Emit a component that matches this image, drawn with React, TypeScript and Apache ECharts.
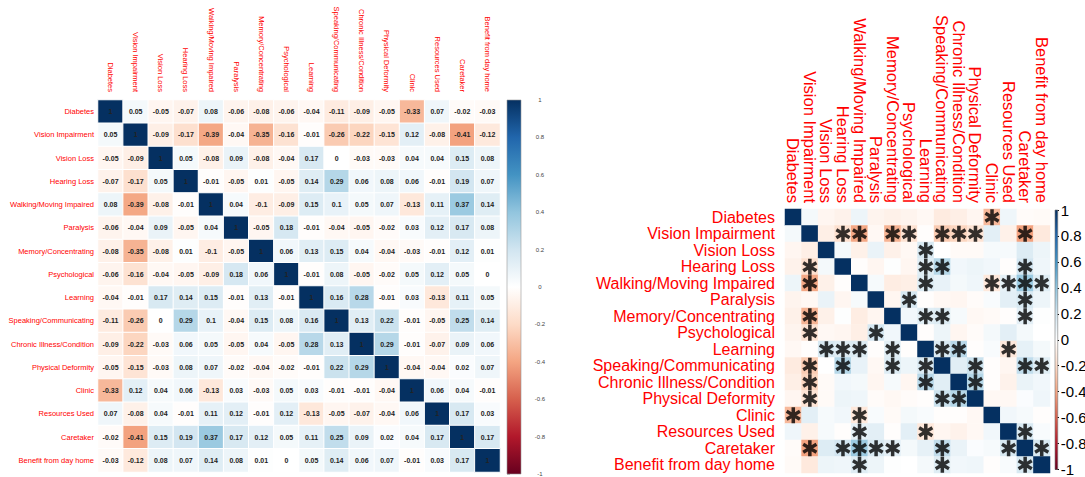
import React, { useEffect, useRef } from "react";
import * as echarts from "echarts";

const categories = [
  "Diabetes",
  "Vision Impairment",
  "Vision Loss",
  "Hearing Loss",
  "Walking/Moving Impaired",
  "Paralysis",
  "Memory/Concentrating",
  "Psychological",
  "Learning",
  "Speaking/Communicating",
  "Chronic Illness/Condition",
  "Physical Deformity",
  "Clinic",
  "Resources Used",
  "Caretaker",
  "Benefit from day home",
];

const rowDiabetes = [1, 0.05, -0.05, -0.07, 0.08, -0.06, -0.08, -0.06, -0.04, -0.11, -0.09, -0.05, -0.33, 0.07, -0.02, -0.03];
const rowVisionImpairment = [0.05, 1, -0.09, -0.17, -0.39, -0.04, -0.35, -0.16, -0.01, -0.26, -0.22, -0.15, 0.12, -0.08, -0.41, -0.12];
const rowVisionLoss = [-0.05, -0.09, 1, 0.05, -0.08, 0.09, -0.08, -0.04, 0.17, 0, -0.03, -0.03, 0.04, 0.04, 0.15, 0.08];
const rowHearingLoss = [-0.07, -0.17, 0.05, 1, -0.01, -0.05, 0.01, -0.05, 0.14, 0.29, 0.06, 0.08, 0.06, -0.01, 0.19, 0.07];
const rowWalking = [0.08, -0.39, -0.08, -0.01, 1, 0.04, -0.1, -0.09, 0.15, 0.1, 0.05, 0.07, -0.13, 0.11, 0.37, 0.14];
const rowParalysis = [-0.06, -0.04, 0.09, -0.05, 0.04, 1, -0.05, 0.18, -0.01, -0.04, -0.05, -0.02, 0.03, 0.12, 0.17, 0.08];
const rowMemory = [-0.08, -0.35, -0.08, 0.01, -0.1, -0.05, 1, 0.06, 0.13, 0.15, 0.04, -0.04, -0.03, -0.01, 0.12, 0.01];
const rowPsychological = [-0.06, -0.16, -0.04, -0.05, -0.09, 0.18, 0.06, 1, -0.01, 0.08, -0.05, -0.02, 0.05, 0.12, 0.05, 0];
const rowLearning = [-0.04, -0.01, 0.17, 0.14, 0.15, -0.01, 0.13, -0.01, 1, 0.16, 0.28, -0.01, 0.03, -0.13, 0.11, 0.05];
const rowSpeaking = [-0.11, -0.26, 0, 0.29, 0.1, -0.04, 0.15, 0.08, 0.16, 1, 0.13, 0.22, -0.01, -0.05, 0.25, 0.14];
const rowChronic = [-0.09, -0.22, -0.03, 0.06, 0.05, -0.05, 0.04, -0.05, 0.28, 0.13, 1, 0.29, -0.01, -0.07, 0.09, 0.06];
const rowPhysical = [-0.05, -0.15, -0.03, 0.08, 0.07, -0.02, -0.04, -0.02, -0.01, 0.22, 0.29, 1, -0.04, -0.04, 0.02, 0.07];
const rowClinic = [-0.33, 0.12, 0.04, 0.06, -0.13, 0.03, -0.03, 0.05, 0.03, -0.01, -0.01, -0.04, 1, 0.06, 0.04, -0.01];
const rowResources = [0.07, -0.08, 0.04, -0.01, 0.11, 0.12, -0.01, 0.12, -0.13, -0.05, -0.07, -0.04, 0.06, 1, 0.17, 0.03];
const rowCaretaker = [-0.02, -0.41, 0.15, 0.19, 0.37, 0.17, 0.12, 0.05, 0.11, 0.25, 0.09, 0.02, 0.04, 0.17, 1, 0.17];
const rowBenefit = [-0.03, -0.12, 0.08, 0.07, 0.14, 0.08, 0.01, 0, 0.05, 0.14, 0.06, 0.07, -0.01, 0.03, 0.17, 1];

const corrRows = [
  rowDiabetes, rowVisionImpairment, rowVisionLoss, rowHearingLoss, rowWalking, rowParalysis,
  rowMemory, rowPsychological, rowLearning, rowSpeaking, rowChronic, rowPhysical,
  rowClinic, rowResources, rowCaretaker, rowBenefit,
];

// significant pairs (row index, column index), marked with an asterisk
const sigPairs: [number, number][] = [
  [0, 12],
  [1, 3], [1, 4], [1, 6], [1, 7], [1, 9], [1, 10], [1, 11], [1, 14],
  [2, 8],
  [3, 8], [3, 9], [3, 14],
  [4, 8], [4, 12], [4, 13], [4, 14], [4, 15],
  [5, 7], [5, 14],
  [6, 8], [6, 9], [6, 14],
  [8, 9], [8, 10], [8, 13],
  [9, 11], [9, 14], [9, 15],
  [10, 11],
  [13, 14],
  [14, 15],
];

const palette = ["#67001F", "#B2182B", "#D6604D", "#F4A582", "#FDDBC7", "#FFFFFF", "#D1E5F0", "#92C5DE", "#4393C3", "#2166AC", "#053061"];

const STAR =
  "path://M-1.15,5L-1.15,-5L1.15,-5L1.15,5Z M3.755,3.496L-4.905,-1.504L-3.755,-3.496L4.905,1.504Z M4.905,-1.504L-3.755,3.496L-4.905,1.504L3.755,-3.496Z";

export default function App() {
  const ref = useRef<HTMLDivElement>(null);
  useEffect(() => {
    const chart = echarts.init(ref.current!, null, { renderer: "svg" });
    const n = categories.length;
    const heatData: number[][] = [];
    for (let i = 0; i < n; i++) for (let j = 0; j < n; j++) heatData.push([j, i, corrRows[i][j]]);
    const sigSet = new Set<string>();
    sigPairs.forEach(([a, b]) => {
      sigSet.add(a + "," + b);
      sigSet.add(b + "," + a);
    });
    const starData: number[][] = [];
    for (let i = 0; i < n; i++) for (let j = 0; j < n; j++) if (sigSet.has(i + "," + j)) starData.push([j, i]);

    const stops = palette
      .map((c, i) => ({ offset: 1 - i / (palette.length - 1), color: c }))
      .reverse();

    const barRender = (stroke: string) => (params: any, api: any) => {
      const p0 = api.coord([0, 1]);
      const p1 = api.coord([1, -1]);
      return {
        type: "rect",
        shape: { x: p0[0], y: p0[1], width: p1[0] - p0[0], height: p1[1] - p0[1] },
        style: { fill: new echarts.graphic.LinearGradient(0, 0, 0, 1, stops), stroke, lineWidth: 0.6 },
      };
    };

    const font = "Liberation Sans, Arial, sans-serif";
    const catAxisX = (fontSize: number, margin: number) => ({
      type: "category",
      data: categories,
      position: "top",
      axisLine: { show: false },
      axisTick: { show: false },
      splitLine: { show: false },
      axisLabel: { interval: 0, rotate: 90, color: "#f00", fontSize, fontFamily: font, margin },
    });
    const catAxisY = (fontSize: number, margin: number) => ({
      type: "category",
      data: categories,
      inverse: true,
      axisLine: { show: false },
      axisTick: { show: false },
      splitLine: { show: false },
      axisLabel: { interval: 0, color: "#f00", fontSize, fontFamily: font, margin },
    });
    const fmt = (v: number) => String(Math.round(v * 10) / 10);

    chart.setOption({
      animation: false,
      grid: [
        { left: 98, top: 100, width: 402, height: 372 },
        { left: 785, top: 209, width: 265, height: 264 },
        { left: 507, top: 100, width: 14, height: 376 },
        { left: 1055, top: 210, width: 11, height: 263 },
      ],
      xAxis: [
        { ...catAxisX(7.5, 8), gridIndex: 0 },
        { ...catAxisX(16.5, 6), gridIndex: 1 },
        { type: "value", gridIndex: 2, min: 0, max: 1, show: false },
        { type: "value", gridIndex: 3, min: 0, max: 1, show: false },
      ],
      yAxis: [
        { ...catAxisY(7.5, 4), gridIndex: 0 },
        { ...catAxisY(16, 10), gridIndex: 1 },
        {
          type: "value", gridIndex: 2, min: -1, max: 1, interval: 0.2, position: "right",
          axisLine: { show: false }, splitLine: { show: false },
          axisTick: { show: true, length: 3, lineStyle: { color: "#999", width: 0.6 } },
          axisLabel: { fontSize: 6, color: "#444", fontFamily: font, margin: 19, align: "center", formatter: fmt },
        },
        {
          type: "value", gridIndex: 3, min: -1, max: 1, interval: 0.2, position: "right",
          axisLine: { show: false }, splitLine: { show: false },
          axisTick: { show: true, length: 4, lineStyle: { color: "#000", width: 1 } },
          axisLabel: { fontSize: 15, color: "#000", fontFamily: font, margin: 3, formatter: fmt },
        },
      ],
      visualMap: {
        show: false,
        type: "continuous",
        min: -1,
        max: 1,
        seriesIndex: [0, 1],
        dimension: 2,
        inRange: { color: palette },
      },
      series: [
        {
          type: "heatmap",
          xAxisIndex: 0,
          yAxisIndex: 0,
          data: heatData,
          itemStyle: { borderColor: "#fff", borderWidth: 1 },
          label: {
            show: true,
            fontSize: 7,
            fontWeight: "bold",
            color: "#222",
            fontFamily: font,
            formatter: (p: any) => String(p.value[2]),
          },
          emphasis: { disabled: true },
        },
        {
          type: "heatmap",
          xAxisIndex: 1,
          yAxisIndex: 1,
          data: heatData,
          itemStyle: { borderWidth: 0 },
          label: { show: false },
          emphasis: { disabled: true },
        },
        {
          type: "scatter",
          xAxisIndex: 1,
          yAxisIndex: 1,
          data: starData,
          symbol: STAR,
          symbolSize: [15, 16],
          itemStyle: { color: "#000" },
          z: 5,
          emphasis: { disabled: true },
        },
        {
          type: "custom",
          xAxisIndex: 2,
          yAxisIndex: 2,
          data: [[0, 0]],
          renderItem: barRender("#999"),
          silent: true,
        },
        {
          type: "custom",
          xAxisIndex: 3,
          yAxisIndex: 3,
          data: [[0, 0]],
          renderItem: barRender("#777"),
          silent: true,
        },
      ],
    });
    return () => chart.dispose();
  }, []);
  return (
    <div
      ref={ref}
      style={{ position: "fixed", left: 0, top: 0, width: 1085, height: 477, background: "#fff" }}
    />
  );
}
